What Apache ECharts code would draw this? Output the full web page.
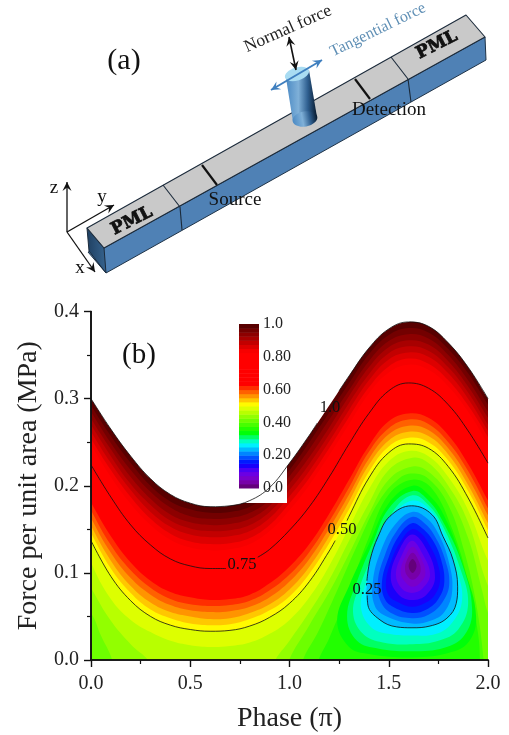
<!DOCTYPE html>
<html><head><meta charset="utf-8">
<style>html,body{margin:0;padding:0;background:#fff}#c{width:509px;height:735px}</style>
<script src="https://cdn.jsdelivr.net/npm/echarts@6/dist/echarts.min.js"></script>
</head><body><div id="c"></div>
<script>
var phases=[0,.1,.2,.3,.4,.5,.6,.7,.8,.9,1,1.1,1.2,1.3,1.4,1.5,1.6,1.7,1.8,1.9,2];
var level100=[.300,.265,.234,.208,.190,.180,.176,.177,.183,.198,.226,.258,.292,.326,.358,.380,.388,.383,.364,.336,.300];
var level975=[.292,.257,.226,.200,.182,.173,.169,.170,.176,.191,.218,.250,.284,.318,.351,.373,.381,.376,.357,.329,.293];
var level950=[.285,.249,.218,.193,.175,.165,.162,.163,.169,.184,.211,.242,.276,.310,.343,.366,.374,.369,.350,.321,.285];
var level925=[.277,.242,.210,.185,.167,.158,.155,.156,.162,.177,.203,.233,.267,.303,.336,.359,.367,.362,.343,.314,.278];
var level900=[.270,.234,.202,.178,.160,.151,.148,.149,.155,.170,.195,.225,.259,.295,.328,.352,.360,.355,.336,.307,.270];
var level875=[.262,.226,.195,.170,.153,.144,.141,.142,.148,.163,.188,.217,.251,.287,.321,.345,.353,.348,.329,.300,.263];
var level850=[.254,.218,.187,.162,.145,.136,.133,.134,.140,.155,.180,.209,.243,.279,.313,.337,.346,.340,.321,.292,.256];
var level825=[.247,.210,.179,.155,.138,.129,.126,.127,.133,.148,.172,.201,.235,.271,.306,.330,.339,.333,.314,.285,.248];
var level750=[.224,.187,.155,.132,.116,.108,.105,.106,.112,.127,.149,.176,.210,.248,.283,.309,.318,.312,.293,.263,.226];
var level650=[.189,.151,.120,.099,.086,.079,.076,.077,.082,.096,.115,.142,.176,.215,.253,.281,.290,.284,.265,.232,.192];
var level625=[.181,.142,.112,.091,.078,.072,.069,.070,.075,.088,.107,.133,.168,.207,.246,.274,.283,.278,.258,.225,.183];
var level600=[.172,.132,.103,.083,.070,.064,.062,.063,.068,.080,.098,.124,.159,.198,.239,.266,.276,.271,.250,.217,.174];
var level575=[.163,.123,.094,.075,.063,.057,.055,.056,.061,.072,.090,.116,.151,.190,.231,.259,.269,.264,.243,.209,.166];
var level550=[.154,.114,.085,.066,.055,.050,.047,.048,.054,.064,.081,.107,.142,.182,.224,.252,.262,.257,.236,.201,.157];
var level525=[.146,.105,.077,.058,.048,.042,.040,.041,.047,.057,.073,.099,.134,.173,.216,.245,.255,.250,.229,.194,.149];
var level500=[.137,.096,.068,.050,.040,.035,.033,.034,.039,.049,.065,.090,.125,.165,.209,.238,.248,.243,.222,.186,.140];
var level475=[.112,.070,.046,.032,.022,.017,.015,.016,.020,.030,.046,.072,.108,.152,.196,.228,.240,.234,.210,.172,.114];
var level450a=[[-.1,.125],[0,.083],[.1,.045],[.2,.018],[.3,-.005],[.3,-.03],[-.1,-.03]];
var level450b=[[.92,-.03],[.92,-.005],[1,.022],[1.1,.055],[1.2,.092],[1.3,.137],[1.4,.180],[1.5,.218],[1.62,.232],[1.7,.226],[1.8,.200],[1.9,.158],[2,.085],[2.1,.045],[2.1,-.03]];
var level425a=[[-.1,.08],[0,.054],[.05,.028],[.11,-.003],[.11,-.03],[-.1,-.03]];
var level425b=[[.99,-.03],[.99,-.005],[1.1,.04],[1.2,.078],[1.3,.122],[1.4,.168],[1.5,.207],[1.62,.222],[1.7,.216],[1.8,.190],[1.9,.14],[1.97,.08],[2,.054],[2.05,.03],[2.05,-.03]];
var level400=[[1.06,-.03],[1.06,-.005],[1.15,.035],[1.25,.085],[1.35,.136],[1.45,.182],[1.55,.208],[1.62,.214],[1.7,.208],[1.8,.178],[1.88,.125],[1.94,.065],[1.98,-.005],[1.98,-.03]];
var level375=[[1.14,-.03],[1.14,-.005],[1.2,.025],[1.3,.08],[1.4,.141],[1.5,.19],[1.62,.207],[1.72,.196],[1.82,.15],[1.9,.09],[1.95,.03],[1.96,-.005],[1.96,-.03]];
var level350=[[1.62,.2],[1.5,.18],[1.4,.133],[1.3,.085],[1.24,.045],[1.3,.015],[1.4,.007],[1.62,.003],[1.8,.008],[1.9,.02],[1.94,.05],[1.88,.105],[1.78,.165],[1.7,.19]];
var level325=[[1.62,.194],[1.5,.174],[1.42,.135],[1.34,.09],[1.29,.05],[1.34,.022],[1.45,.013],[1.62,.01],[1.78,.014],[1.88,.028],[1.92,.058],[1.87,.11],[1.77,.16],[1.7,.183]];
var level300=[[1.62,.189],[1.52,.17],[1.44,.13],[1.36,.088],[1.32,.055],[1.37,.03],[1.47,.02],[1.62,.018],[1.75,.022],[1.85,.035],[1.9,.065],[1.86,.105],[1.77,.155],[1.7,.178]];
var level275=[[1.62,.183],[1.52,.165],[1.44,.125],[1.38,.085],[1.36,.06],[1.41,.038],[1.5,.03],[1.62,.028],[1.74,.03],[1.82,.043],[1.87,.07],[1.84,.105],[1.77,.15],[1.71,.172]];
var level250=[[1.615,.177],[1.506,.165],[1.447,.142],[1.406,.115],[1.39,.088],[1.395,.063],[1.456,.046],[1.54,.038],[1.617,.037],[1.708,.039],[1.793,.048],[1.84,.065],[1.847,.084],[1.824,.115],[1.773,.142],[1.717,.167]];
var level225=[[1.617,.170],[1.53,.155],[1.46,.125],[1.42,.09],[1.43,.062],[1.49,.05],[1.617,.042],[1.71,.045],[1.78,.055],[1.82,.08],[1.80,.115],[1.75,.145],[1.69,.163]];
var level200=[[1.617,.164],[1.54,.148],[1.48,.12],[1.445,.09],[1.46,.067],[1.52,.053],[1.617,.048],[1.70,.052],[1.77,.066],[1.805,.088],[1.78,.118],[1.73,.143],[1.68,.157]];
var level175=[[1.617,.157],[1.55,.142],[1.50,.118],[1.466,.09],[1.48,.07],[1.53,.06],[1.617,.054],[1.69,.058],[1.75,.07],[1.78,.09],[1.76,.118],[1.72,.138],[1.67,.151]];
var level150=[[1.617,.15],[1.56,.136],[1.515,.115],[1.486,.09],[1.50,.074],[1.55,.066],[1.617,.061],[1.68,.065],[1.73,.074],[1.758,.09],[1.745,.112],[1.705,.132],[1.665,.145]];
var level125=[[1.617,.144],[1.55,.125],[1.51,.095],[1.55,.075],[1.617,.069],[1.69,.075],[1.733,.095],[1.69,.127]];
var level100low=[[1.617,.137],[1.565,.12],[1.536,.098],[1.565,.082],[1.617,.077],[1.67,.082],[1.708,.098],[1.67,.122]];
var level075=[[1.62,.130],[1.58,.117],[1.56,.1],[1.585,.089],[1.62,.084],[1.66,.089],[1.685,.1],[1.66,.118]];
var level050=[[1.62,.123],[1.59,.114],[1.582,.104],[1.595,.096],[1.62,.092],[1.648,.096],[1.661,.104],[1.648,.115]];
var level025=[[1.62,.116],[1.60,.108],[1.62,.10],[1.64,.108]];

var line100=[[0,.300],[.1,.265],[.2,.234],[.3,.208],[.4,.190],[.5,.180],[.6,.176],[.7,.177],[.8,.183],[.9,.198],[1,.226],[1.1,.258],[1.14,.272],null,[1.25,.309],[1.3,.326],[1.4,.358],[1.5,.380],[1.6,.388],[1.7,.383],[1.8,.364],[1.9,.336],[2,.300]];
var line75=[[0,.224],[.1,.187],[.2,.155],[.3,.132],[.4,.116],[.5,.108],[.6,.105],[.68,.105],null,[.84,.118],[.9,.127],[1,.149],[1.1,.176],[1.2,.210],[1.3,.248],[1.4,.283],[1.5,.309],[1.6,.318],[1.7,.312],[1.8,.293],[1.9,.263],[2,.226]];
var line50=[[0,.137],[.1,.096],[.2,.068],[.3,.050],[.4,.040],[.5,.035],[.6,.033],[.7,.034],[.8,.039],[.9,.049],[1,.065],[1.1,.090],[1.2,.125],[1.23,.137],null,[1.29,.16],[1.3,.165],[1.4,.209],[1.5,.238],[1.6,.248],[1.7,.243],[1.8,.222],[1.9,.186],[2,.140]];
var line25=[[1.39,.091],[1.406,.115],[1.447,.142],[1.506,.165],[1.615,.177],[1.717,.167],[1.773,.142],[1.824,.115],[1.847,.084],[1.84,.065],[1.793,.048],[1.708,.039],[1.617,.037],[1.54,.038],[1.456,.046],[1.395,.063],[1.392,.074]];

var barLevels=[.025,.05,.075,.1,.125,.15,.175,.2,.225,.25,.275,.3,.325,.35,.375,.4,.425,.45,.475,.5,.525,.55,.575,.6,.625,.65,.675,.7,.725,.75,.775,.8,.825,.85,.875,.9,.925,.95,.975,1];
var colorStops=[[0,[90,0,100]],[.05,[128,0,190]],[.1,[100,0,240]],[.15,[0,0,255]],[.27,[0,255,255]],[.34,[0,255,0]],[.51,[255,255,0]],[.635,[255,0,0]],[.83,[255,0,0]],[1,[75,0,0]]];
var yTicks={'1':'1.0','0.8':'0.80','0.6':'0.60','0.4':'0.40','0.2':'0.20','0':'0.0'};

function colorAt(v){
  for(var i=1;i<colorStops.length;i++){
    if(v<=colorStops[i][0]){
      var a=colorStops[i-1],b=colorStops[i],t=(v-a[0])/(b[0]-a[0]);
      return 'rgb('+[0,1,2].map(function(k){return Math.round(a[1][k]+(b[1][k]-a[1][k])*t)}).join(',')+')';
    }
  }
  return 'rgb(75,0,0)';
}
function open(c){
  var p=[[-.1,c[19]]];
  phases.forEach(function(x,i){p.push([x,c[i]])});
  p.push([2.1,c[1]],[2.1,-.2],[-.1,-.2]);
  return p;
}
var regions=[
 [1,open(level100)],[.975,open(level975)],[.95,open(level950)],[.925,open(level925)],[.9,open(level900)],
 [.875,open(level875)],[.85,open(level850)],[.825,open(level825)],[.75,open(level750)],[.65,open(level650)],
 [.625,open(level625)],[.6,open(level600)],[.575,open(level575)],[.55,open(level550)],[.525,open(level525)],
 [.5,open(level500)],[.475,open(level475)],[.45,level450a],[.45,level450b],[.425,level425a],[.425,level425b],
 [.4,level400],[.375,level375],[.35,level350],[.325,level325],[.3,level300],[.275,level275],[.25,level250],
 [.225,level225],[.2,level200],[.175,level175],[.15,level150],[.125,level125],[.1,level100low],[.075,level075],[.05,level050],[.025,level025]
];

var serif='"Liberation Serif","Times New Roman",serif';
function line(data){return {type:'line',xAxisIndex:0,yAxisIndex:0,data:data,smooth:.4,showSymbol:false,silent:true,z:3,clip:true,connectNulls:false,
  lineStyle:{color:'#111',width:.8},itemStyle:{color:'#111'}}}
function txt(s,x,y,size,color,rot,extra){
  return {type:'text',x:x,y:y,rotation:(rot||0)*Math.PI/180,z:20,silent:true,
    style:Object.assign({text:s,fill:color||'#111',font:size+'px '+serif,align:'center',verticalAlign:'middle'},extra||{})};
}
function poly(pts,fill,stroke,w,z){
  return {type:'polygon',z:z||12,silent:true,shape:{points:pts},style:{fill:fill,stroke:stroke||'#1b2a3a',lineWidth:w===undefined?1:w,lineJoin:'round'}};
}
function seg(a,b,color,w,z){
  return {type:'line',z:z||14,silent:true,shape:{x1:a[0],y1:a[1],x2:b[0],y2:b[1]},style:{stroke:color||'#111',lineWidth:w||1}};
}
function arrow(a,b,color,w,head,both){
  var out=[seg(a,b,color,w,18)];
  function h(t,f){
    var dx=t[0]-f[0],dy=t[1]-f[1],l=Math.sqrt(dx*dx+dy*dy);dx/=l;dy/=l;
    out.push({type:'polygon',z:18,silent:true,shape:{points:[t,[t[0]-dx*head*1.3-dy*head*.65,t[1]-dy*head*1.3+dx*head*.65],[t[0]-dx*head*.8,t[1]-dy*head*.8],[t[0]-dx*head*1.3+dy*head*.65,t[1]-dy*head*1.3-dx*head*.65]]},style:{fill:color}});
  }
  h(b,a);if(both)h(a,b);
  return out;
}
var pmlFont='bold 17px "DejaVu Serif",serif';
var graphics=[
 {type:'rect',z:3,silent:true,shape:{x:225,y:313,width:62,height:190},style:{fill:'#fff'}},
 poly([[88,252],[104,248],[485,37],[486,60],[106,273]],'#4f81b5','#1f3347',1),
 poly([[87,228],[104,248],[106,273],[89,251]],{type:'linear',x:0,y:0,x2:1,y2:0,colorStops:[{offset:0,color:'#1f3f60'},{offset:1,color:'#37648f'}]},'#1b2a3a',1),
 poly([[87,228],[466,15],[485,37],[104,248]],'#c9c9c9','#1b2a3a',1.1),
 seg([163,185],[180,207],'#1b2a3a',1.1), seg([180,207],[182,230],'#1b2a3a',1.1),
 seg([391,57],[408,79],'#1b2a3a',1.1), seg([408,79],[411,102],'#1b2a3a',1.1),
 seg([202,165],[217,185],'#111',2.2), seg([355,79],[370,99],'#111',2.2),
 {type:'polygon',z:15,silent:true,shape:{points:[[286,78],[309,70],[317,117],[293,122]]},style:{fill:{type:'linear',x:0,y:0,x2:1,y2:0,colorStops:[{offset:0,color:'#4b8ac4'},{offset:.4,color:'#7fb0d8'},{offset:.7,color:'#2f5f90'},{offset:1,color:'#06182c'}]}}},
 {type:'ellipse',z:15,silent:true,rotation:.18,originX:305,originY:119,shape:{cx:305,cy:119,rx:12.5,ry:7.5},style:{fill:{type:'linear',x:0,y:0,x2:1,y2:0,colorStops:[{offset:0,color:'#4b8ac4'},{offset:.4,color:'#7fb0d8'},{offset:.7,color:'#2f5f90'},{offset:1,color:'#06182c'}]}}},
 {type:'ellipse',z:16,silent:true,x:297,y:74,rotation:.3,shape:{cx:0,cy:0,rx:12.5,ry:6.5},style:{fill:'#a9dcf2'}},
 txt('(a)',124,61,30),txt('(b)',139,355,29),
 txt('Normal force',288,29,17.5,'#222',24),
 txt('Tangential force',378,30,16,'#5f8fb5',26),
 txt('Source',235,200,19),txt('Detection',389,110,19),
 txt('PML',132,221,17,'#111',27,{font:pmlFont,stroke:'#111',lineWidth:.8}),
 txt('PML',437,45,17,'#111',27,{font:pmlFont,stroke:'#111',lineWidth:.8}),
 txt('z',54,188,19),txt('y',102,197,19),txt('x',80,268,19),
 txt('0.75',242,565,16.5),txt('0.50',342,530,16.5),txt('0.25',367,590,16.5),txt('1.0',330,408,16.5)
].concat(
 arrow([67,232],[67,182],'#111',1.3,7),arrow([67,232],[114,205],'#111',1.3,7),arrow([67,232],[95,272],'#111',1.3,7),
 arrow([296,70],[289,37],'#111',1.6,7,true),arrow([271,90],[322,60],'#3f7fbf',2,7,true)
);
var axisBase={type:'value',z:10,axisLine:{show:true,lineStyle:{color:'#111',width:1.6}},splitLine:{show:false},
  axisLabel:{show:false},axisTick:{show:false}};
var option={
 animation:false,backgroundColor:'#fff',textStyle:{fontFamily:serif},
 graphic:graphics,
 grid:[{left:91,right:21,top:311.5,bottom:75,containLabel:false},{left:239,width:20,top:324,height:164,containLabel:false}],
 xAxis:[
  Object.assign({},axisBase,{gridIndex:0,min:0,max:2,interval:.5,position:'bottom',name:'Phase (\u03c0)',nameLocation:'middle',nameGap:45,
    nameTextStyle:{fontFamily:serif,fontSize:28,color:'#222'},
    axisLabel:{show:true,fontFamily:serif,fontSize:20,color:'#222',margin:14,formatter:function(v){return v.toFixed(1)}},
    axisTick:{show:true,length:7,inside:false,lineStyle:{color:'#111',width:1.4}},
    minorTick:{show:true,splitNumber:2,length:4,lineStyle:{color:'#111',width:1.2}}}),
  Object.assign({},axisBase,{gridIndex:0,min:0,max:2,position:'top'}),
  {type:'value',gridIndex:1,min:0,max:1,show:false}
 ],
 yAxis:[
  Object.assign({},axisBase,{gridIndex:0,min:0,max:.4,interval:.1,position:'left',name:'Force per unit area (MPa)',nameLocation:'middle',nameGap:47,nameRotate:90,
    nameTextStyle:{fontFamily:serif,fontSize:28,color:'#222'},
    axisLabel:{show:true,fontFamily:serif,fontSize:20,color:'#222',margin:12,formatter:function(v){return v.toFixed(1)}},
    axisTick:{show:true,length:7,lineStyle:{color:'#111',width:1.4}},
    minorTick:{show:true,splitNumber:2,length:4,lineStyle:{color:'#111',width:1.2}}}),
  Object.assign({},axisBase,{gridIndex:0,min:0,max:.4,position:'right'}),
  {type:'value',gridIndex:1,min:0,max:1,interval:.2,position:'right',z:10,axisLine:{show:false},axisTick:{show:false},splitLine:{show:false},
    axisLabel:{show:true,margin:4,fontFamily:serif,fontSize:16,color:'#222',formatter:function(v){return yTicks[String(+v.toFixed(1))]}}}
 ],
 series:[
  {type:'custom',xAxisIndex:0,yAxisIndex:0,clip:true,silent:true,z:2,
   data:regions.map(function(r,i){return [i]}),encode:{x:0},
   renderItem:function(params,api){
     var r=regions[params.dataIndex];
     return {type:'polygon',shape:{points:r[1].map(function(p){return api.coord(p)}),smooth:.4},style:{fill:colorAt(r[0]-.0125),stroke:null}};
   }},
  line(line100),line(line75),line(line50),line(line25),
  {type:'custom',xAxisIndex:2,yAxisIndex:2,silent:true,z:5,
   data:barLevels.map(function(v){return [.5,v]}),
   renderItem:function(params,api){
     var v=barLevels[params.dataIndex],a=api.coord([0,v]),b=api.coord([1,v-.025]);
     return {type:'rect',shape:{x:a[0],y:a[1],width:b[0]-a[0],height:b[1]-a[1]+.5},style:{fill:colorAt(v-.0125)}};
   }}
 ]
};
var chart=echarts.init(document.getElementById('c'),null,{renderer:'canvas'});
chart.setOption(option);
</script></body></html>
